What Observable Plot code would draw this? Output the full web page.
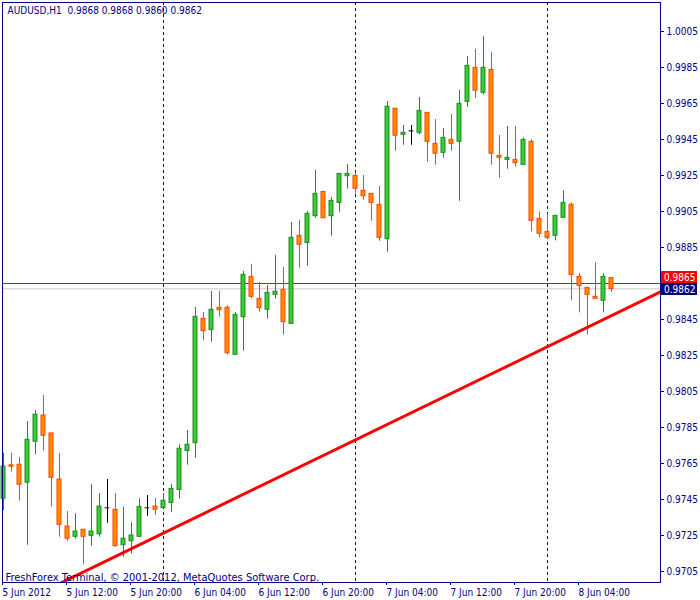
<!DOCTYPE html>
<html><head><meta charset="utf-8">
<script src="https://cdn.jsdelivr.net/npm/d3@7"></script>
<script src="https://cdn.jsdelivr.net/npm/@observablehq/plot@0.6"></script>
<style>
html,body{margin:0;padding:0;background:#fff}
#chart svg{display:block}
</style>
</head><body><div id="chart"></div>
<script>
const symbol = "AUDUSD,H1";
const footerText = "FreshForex Terminal, © 2001-2012, MetaQuotes Software Corp.";

const opens = [0.97454,0.97640,0.97643,0.97543,0.97771,0.97917,0.97817,0.97561,0.97300,0.97243,
0.97282,0.97248,0.97257,0.97404,0.97393,0.97196,0.97218,0.97243,0.97404,0.97411,
0.97402,0.97431,0.97503,0.97719,0.97763,0.98454,0.98391,0.98515,0.98515,0.98254,
0.98463,0.98687,0.98565,0.98504,0.98587,0.98615,0.98426,0.98915,0.98875,0.99024,
0.99159,0.99024,0.99098,0.99246,0.99248,0.99165,0.99148,0.99087,0.98896,0.99621,
0.99476,0.99498,0.99487,0.99598,0.99426,0.99376,0.99448,0.99437,0.99659,0.99848,
0.99709,0.99837,0.99359,0.99337,0.99337,0.99309,0.99437,0.99009,0.98937,0.98915,
0.99015,0.99087,0.98687,0.98626,0.98576,0.98554,0.9868];
const highs = [0.97707,0.97707,0.97683,0.97883,0.97944,0.98028,0.97817,0.97706,0.97383,0.97371,
0.97282,0.97533,0.97483,0.97561,0.97483,0.97407,0.97321,0.97454,0.97472,0.97456,
0.97482,0.97533,0.97754,0.97833,0.98517,0.98489,0.98606,0.98606,0.98526,0.98489,
0.98717,0.98756,0.98656,0.98639,0.98806,0.98739,0.98989,0.99000,0.99050,0.99278,
0.99159,0.99128,0.99259,0.99311,0.99265,0.99250,0.99148,0.99189,0.99661,0.99621,
0.99528,0.99528,0.99683,0.99598,0.99561,0.99511,0.99589,0.99722,0.99911,0.99950,
1.00022,0.99933,0.99472,0.99522,0.99522,0.99459,0.99448,0.99048,0.99037,0.99026,
0.99165,0.99098,0.98704,0.98626,0.98765,0.98704,0.9868];
const lows = [0.97389,0.97602,0.97441,0.97196,0.97700,0.97718,0.97407,0.97241,0.97218,0.97229,
0.97089,0.97191,0.97241,0.97318,0.97185,0.97129,0.97148,0.97239,0.97357,0.97361,
0.97400,0.97378,0.97452,0.97641,0.97679,0.98333,0.98324,0.98463,0.98252,0.98250,
0.98274,0.98565,0.98491,0.98452,0.98563,0.98363,0.98426,0.98735,0.98746,0.99013,
0.99009,0.98913,0.99046,0.99174,0.99148,0.99113,0.98996,0.98885,0.98824,0.99385,
0.99418,0.99418,0.99476,0.99324,0.99307,0.99346,0.99385,0.99107,0.99629,0.99679,
0.99698,0.99307,0.99235,0.99285,0.99296,0.99309,0.98937,0.98904,0.98898,0.98887,
0.99015,0.98554,0.98487,0.98365,0.98565,0.98487,0.9860];
const closes = [0.97633,0.97632,0.97532,0.97782,0.97921,0.97804,0.97571,0.97309,0.97232,0.97272,
0.97243,0.97272,0.97411,0.97404,0.97191,0.97232,0.97250,0.97409,0.97404,0.97393,
0.97443,0.97509,0.97732,0.97754,0.98465,0.98385,0.98504,0.98502,0.98263,0.98476,
0.98698,0.98576,0.98513,0.98598,0.98604,0.98435,0.98904,0.98865,0.99037,0.99148,
0.99013,0.99109,0.99259,0.99259,0.99176,0.99135,0.99098,0.98904,0.99632,0.99471,
0.99487,0.99498,0.99609,0.99437,0.99371,0.99459,0.99426,0.99648,0.99859,0.99721,
0.99848,0.99371,0.99348,0.99348,0.99318,0.99448,0.98998,0.98926,0.98904,0.99026,
0.99098,0.98698,0.98637,0.98587,0.98565,0.98687,0.9862];

const tickBars = [0,8,16,24,32,40,48,56,64,72];
const tickLabels = ["5 Jun 2012","5 Jun 12:00","5 Jun 20:00","6 Jun 04:00","6 Jun 12:00",
  "6 Jun 20:00","7 Jun 04:00","7 Jun 12:00","7 Jun 20:00","8 Jun 04:00"];
const priceTicks = [0.9705,0.9725,0.9745,0.9765,0.9785,0.9805,0.9825,0.9845,0.9885,
  0.9905,0.9925,0.9945,0.9965,0.9985,1.0005];
const separatorBars = [20,44,68];
const trendBars = [6.875, 82.125];
const trendPrices = [0.9698, 0.98604];
const askPrice = 0.9865;
const bidPrice = 0.9862;

const NAVY = "#000080";
const candles = opens.map((o, i) => ({i, o, h: highs[i], l: lows[i], c: closes[i],
  dir: closes[i] > o ? "up" : closes[i] < o ? "down" : "flat"}));
const wickColor = {up: "#228B22", down: "#FF4500", flat: "#000000"};
const fillColor = {up: "#32CD32", down: "#FF8C00"};
const bodies = candles.filter(d => d.dir !== "flat");
const dojis = candles.filter(d => d.dir === "flat");
const trend = trendBars.map((b, k) => ({b, p: trendPrices[k]}));
const last = candles[candles.length - 1];
const header = `${symbol}  ${[last.o,last.h,last.l,last.c].map(v => v.toFixed(4)).join(" ")}`;

const chart = Plot.plot({
  width: 700, height: 600,
  marginLeft: 2, marginTop: 2, marginRight: 40, marginBottom: 18,
  style: {fontFamily: "Tahoma, 'DejaVu Sans Condensed', 'DejaVu Sans', sans-serif", fontSize: "10px", color: NAVY, background: "#fff"},
  x: {domain: [-0.125, 82.125], axis: null},
  y: {domain: [0.969889, 1.002111], axis: null},
  marks: [
    Plot.ruleX(separatorBars, {x: d => d, stroke: NAVY, strokeDasharray: "3,3"}),
    Plot.ruleY([askPrice], {y: d => d, stroke: "#ff0000"}),
    Plot.ruleY([bidPrice], {y: d => d, stroke: "#c8c8c8"}),
    Plot.ruleX(candles, {x: "i", y1: "l", y2: "h", stroke: d => wickColor[d.dir]}),
    Plot.rect(bodies, {x1: d => d.i - 0.25, x2: d => d.i + 0.25, y1: "o", y2: "c",
      fill: d => fillColor[d.dir], stroke: d => wickColor[d.dir]}),
    Plot.ruleY(dojis, {x1: d => d.i - 0.3, x2: d => d.i + 0.3, y: "o", stroke: "#000"}),
    Plot.line(trend, {x: "b", y: "p", stroke: "#ff0000", strokeWidth: 3, clip: true}),
    Plot.frame({stroke: NAVY}),
    Plot.axisY(priceTicks, {anchor: "right", tickSize: 3, tickPadding: 3, tickFormat: d => d.toFixed(4), label: null, stroke: NAVY, fill: NAVY}),
    Plot.axisX(tickBars, {anchor: "bottom", tickSize: 3, tickPadding: 3, textAnchor: "start", dx: -1,
      tickFormat: d => tickLabels[tickBars.indexOf(d)], label: null, stroke: NAVY, fill: NAVY}),
    Plot.text([header], {frameAnchor: "top-left", lineAnchor: "top", dx: 5, dy: 4, fill: NAVY, fontSize: 10}),
    Plot.text([footerText], {frameAnchor: "bottom-left", lineAnchor: "bottom", dx: 3, dy: -2, fill: NAVY, fontSize: 11})
  ]
});

// current price labels on the right scale, positioned via the plot's y scale
const ys = chart.scale("y");
const svg = d3.select(chart);
[[askPrice, "#ff0000", -6], [bidPrice, NAVY, 1]].forEach(([p, col, off]) => {
  const y = Math.round(ys.apply(p)) + off;
  const g = svg.append("g").attr("text-anchor", "start");
  g.append("rect").attr("x", 661).attr("y", y - 6).attr("width", 36).attr("height", 12).attr("fill", col);
  g.append("text").attr("x", 664).attr("y", y).attr("dy", "0.35em")
    .attr("fill", "#fff").attr("font-size", 10).text(p.toFixed(4));
});

document.getElementById("chart").append(chart);
</script>
</body></html>
